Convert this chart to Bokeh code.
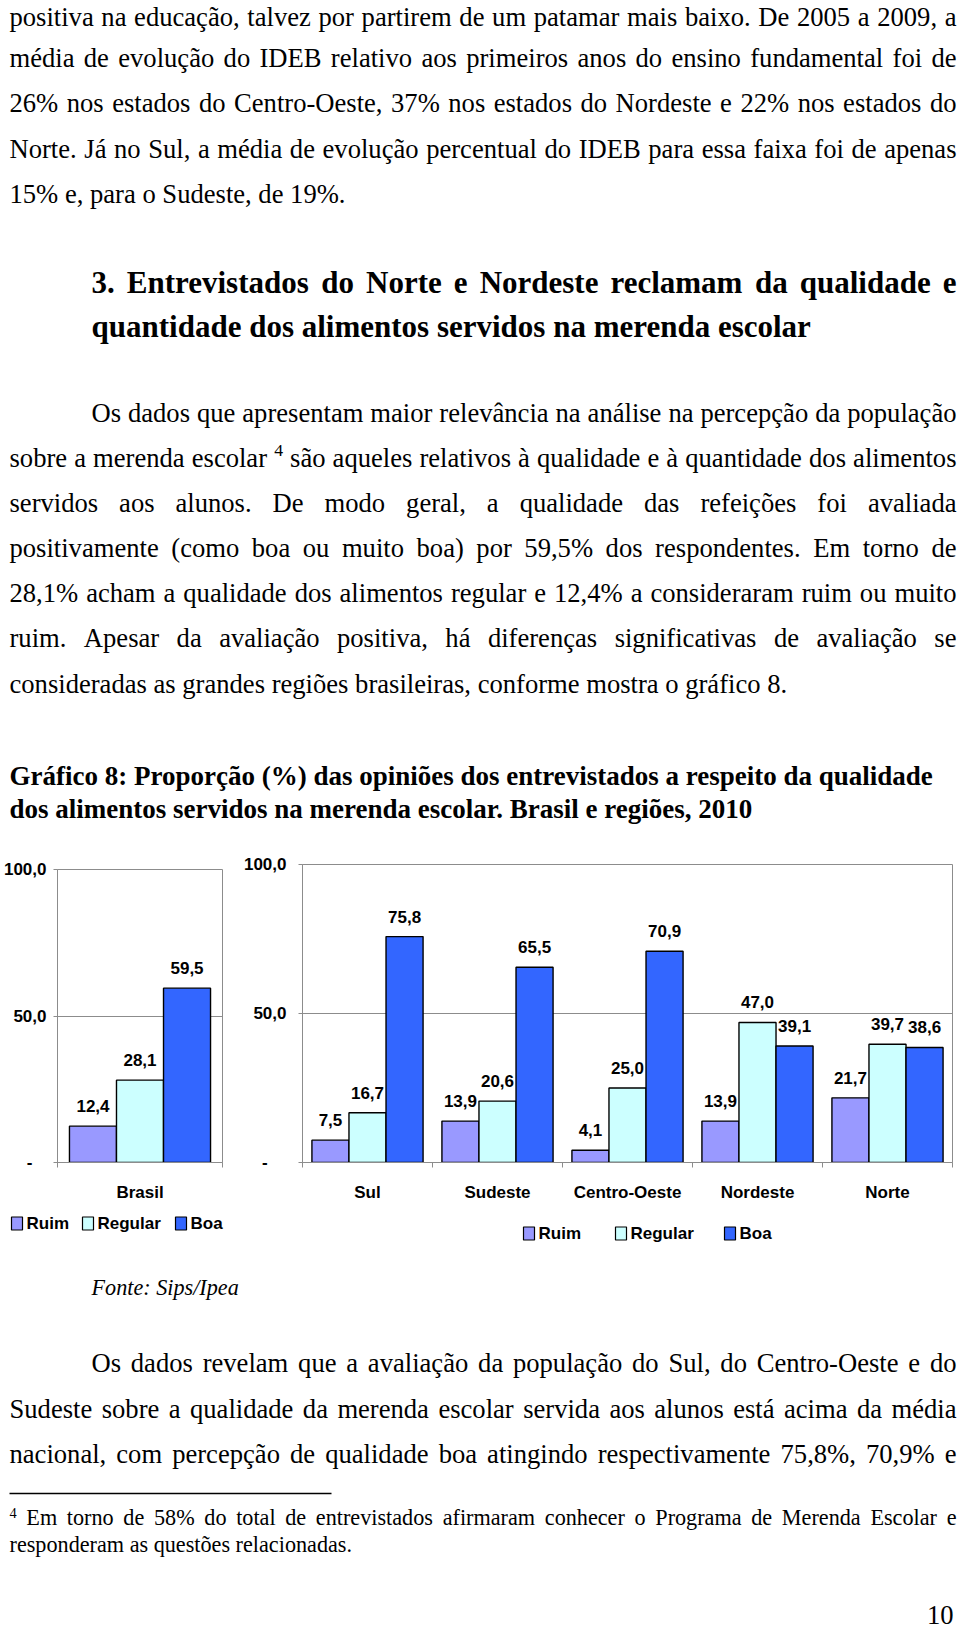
import unicodedata
from bokeh.plotting import figure
from bokeh.models import ColumnDataSource, Range1d, FixedTicker
from bokeh.layouts import column, row
from bokeh.core.properties import value
from bokeh.embed import file_html
from bokeh.resources import INLINE

# ---------------- chart data ----------------
series = ["Ruim", "Regular", "Boa"]
series_colors = ["#9999FF", "#CCFFFF", "#3366FF"]

brasil_cat = ["Brasil"]
brasil_ruim = [12.4]
brasil_regular = [28.1]
brasil_boa = [59.5]

regioes = ["Sul", "Sudeste", "Centro-Oeste", "Nordeste", "Norte"]
reg_ruim = [7.5, 13.9, 4.1, 13.9, 21.7]
reg_regular = [16.7, 20.6, 25.0, 47.0, 39.7]
reg_boa = [75.8, 65.5, 70.9, 39.1, 38.6]

y_ticks = [0, 50, 100]
y_tick_labels = ["-", "50,0", "100,0"]

# ---------------- page text ----------------
para1 = [
    "positiva na educação, talvez por partirem de um patamar mais baixo. De 2005 a 2009, a",
    "média de evolução do IDEB relativo aos primeiros anos do ensino fundamental foi de",
    "26% nos estados do Centro-Oeste, 37% nos estados do Nordeste e 22% nos estados do",
    "Norte. Já no Sul, a média de evolução percentual do IDEB para essa faixa foi de apenas",
    "15% e, para o Sudeste, de 19%.",
]
heading = [
    "3. Entrevistados do Norte e Nordeste reclamam da qualidade e",
    "quantidade dos alimentos servidos na merenda escolar",
]
para2 = [
    "Os dados que apresentam maior relevância na análise na percepção da população",
    "sobre a merenda escolar ⁴ são aqueles relativos à qualidade e à quantidade dos alimentos",
    "servidos aos alunos. De modo geral, a qualidade das refeições foi avaliada",
    "positivamente (como boa ou muito boa) por 59,5% dos respondentes. Em torno de",
    "28,1% acham a qualidade dos alimentos regular e 12,4% a consideraram ruim ou muito",
    "ruim. Apesar da avaliação positiva, há diferenças significativas de avaliação se",
    "consideradas as grandes regiões brasileiras, conforme mostra o gráfico 8.",
]
chart_title = [
    "Gráfico 8: Proporção (%) das opiniões dos entrevistados a respeito da qualidade",
    "dos alimentos servidos na merenda escolar. Brasil e regiões, 2010",
]
fonte = "Fonte: Sips/Ipea"
para3 = [
    "Os dados revelam que a avaliação da população do Sul, do Centro-Oeste e do",
    "Sudeste sobre a qualidade da merenda escolar servida aos alunos está acima da média",
    "nacional, com percepção de qualidade boa atingindo respectivamente 75,8%, 70,9% e",
]
footnote = [
    "⁴ Em torno de 58% do total de entrevistados afirmaram conhecer o Programa de Merenda Escolar e",
    "responderam as questões relacionadas.",
]
page_number = "10"

# ---------------- font metrics (Times) for justification ----------------
LOW = "abcdefghijklmnopqrstuvwxyz"
UP = "ABCDEFGHIJKLMNOPQRSTUVWXYZ"
REG = dict(zip(LOW, [444, 500, 444, 500, 444, 333, 500, 500, 278, 278, 500, 278, 778,
                     500, 500, 500, 500, 333, 389, 278, 500, 500, 722, 500, 500, 444]))
REG.update(zip(UP, [722, 667, 667, 722, 611, 556, 722, 722, 333, 389, 722, 611, 889,
                    722, 722, 556, 722, 667, 556, 611, 722, 722, 944, 722, 722, 611]))
REG.update({" ": 250, "%": 833, "(": 333, ")": 333, ",": 250, "-": 333, ".": 250,
            ":": 278, "/": 278})
BOLD = dict(zip(LOW, [500, 556, 444, 556, 444, 333, 500, 556, 278, 333, 556, 278, 833,
                      556, 500, 556, 556, 444, 389, 333, 556, 500, 722, 500, 500, 444]))
BOLD.update(zip(UP, [722, 667, 722, 722, 667, 611, 778, 778, 389, 500, 778, 667, 944,
                     722, 778, 611, 778, 722, 556, 667, 722, 722, 1000, 722, 722, 667]))
BOLD.update({" ": 250, "%": 1000, "(": 333, ")": 333, ",": 250, "-": 333, ".": 250,
             ":": 333, "/": 278})

# measured: the rendered baseline sits about a third of an em below the anchor
BASE_FIX = 0.34


def base_char(c):
    return unicodedata.normalize("NFD", c)[0]


def word_width(word, size, style):
    tbl = BOLD if style == "bold" else REG
    return sum(tbl.get(base_char(c), 500) for c in word) * size / 1000.0


class TextBuf:
    def __init__(self, top):
        self.top = top
        self.d = dict(x=[], y=[], text=[], size=[], style=[], align=[])

    def add(self, x, y, t, size, style, align):
        self.d["x"].append(x)
        self.d["y"].append(y - self.top - BASE_FIX * size)
        self.d["text"].append(t)
        self.d["size"].append("%.1fpx" % size)
        self.d["style"].append(style)
        self.d["align"].append(align)

    def line(self, txt, x0, x1, y, size, style="normal", justify=True,
             sup_size=None, sup_rise=0):
        if not justify:
            self.add(x0, y, txt, size, style, "left")
            return
        specs = []
        for w in txt.split(" "):
            if w == "⁴":
                specs.append(("4", sup_size, -sup_rise))
            else:
                specs.append((w, size, 0))
        widths = [word_width(t, s, style) for t, s, _ in specs]
        gap = (x1 - x0 - sum(widths)) / (len(specs) - 1)
        x = x0
        for i, ((t, s, dy), w) in enumerate(zip(specs, widths)):
            if i == len(specs) - 1:
                self.add(x1, y + dy, t, s, style, "right")
            else:
                self.add(x, y + dy, t, s, style, "left")
            x += w + gap


def blank_figure(width, height):
    p = figure(width=width, height=height, x_range=Range1d(0, width),
               y_range=Range1d(height, 0), output_backend="svg",
               toolbar_location=None, min_border=0,
               x_axis_location=None, y_axis_location=None)
    p.xgrid.visible = False
    p.ygrid.visible = False
    p.outline_line_color = None
    p.background_fill_color = "white"
    p.border_fill_color = "white"
    p.frame_align = False
    return p


def draw_text(p, buf):
    src = ColumnDataSource(buf.d)
    p.text(x="x", y="y", text="text", source=src, text_font=value("Liberation Serif"),
           text_font_size="size", text_font_style="style", text_align="align",
           text_baseline="alphabetic", text_color="black")


BODY = 26.6
HEAD = 31.0
TITLE = 27.0
SMALL = 22.2
PAGE_W = 960
L, R, IND = 9, 956, 91

# ---------------- top text block (page y 0 .. 832) ----------------
T1_TOP, T1_H = 0, 832
t1 = blank_figure(PAGE_W, T1_H)
b1 = TextBuf(T1_TOP)
p1_base = [26, 67, 112, 157.5, 203]
for i, (ln, yb) in enumerate(zip(para1, p1_base)):
    b1.line(ln, L, R, yb, BODY, justify=(i < len(para1) - 1))
h_base = [293, 337]
for i, (ln, yb) in enumerate(zip(heading, h_base)):
    b1.line(ln, IND, R, yb, HEAD, "bold", justify=(i == 0))
p2_base = [421.5, 466.5, 512, 557, 601.5, 647, 692.5]
for i, (ln, yb) in enumerate(zip(para2, p2_base)):
    b1.line(ln, IND if i == 0 else L, R, yb, BODY, justify=(i < len(para2) - 1),
            sup_size=17.7, sup_rise=10)
ct_base = [785, 818]
for ln, yb in zip(chart_title, ct_base):
    b1.line(ln, L, R, yb, TITLE, "bold", justify=False)
draw_text(t1, b1)

# ---------------- bottom text block (page y 1250 .. 1633) ----------------
T2_TOP, T2_H = 1250, 383
t2 = blank_figure(PAGE_W, T2_H)
b2 = TextBuf(T2_TOP)
b2.add(IND, 1295, fonte, SMALL, "italic", "left")
p3_base = [1372, 1418, 1462.5]
for i, (ln, yb) in enumerate(zip(para3, p3_base)):
    b2.line(ln, IND if i == 0 else L, R, yb, BODY, justify=True)
fn_base = [1525, 1552]
for i, (ln, yb) in enumerate(zip(footnote, fn_base)):
    b2.line(ln, L, R, yb, SMALL, justify=(i == 0), sup_size=14.4, sup_rise=8)
b2.add(953, 1624, page_number, BODY, "normal", "right")
draw_text(t2, b2)
t2.segment(x0=[L], y0=[1493 - T2_TOP], x1=[331], y1=[1493 - T2_TOP], line_color="black",
           line_width=1.3)

# ---------------- charts ----------------
CF = "Liberation Sans"
CFS = "17px"
GRAY = "#8c8c8c"


def fmt(v):
    return ("%.1f" % v).replace(".", ",")


def bar_chart(cats, vals, width, height, left, right, top, bottom, ystandoff, dash_pad):
    n = len(cats)
    p = figure(width=width, height=height, x_range=Range1d(0, n), y_range=Range1d(0, 100),
               output_backend="svg", toolbar_location=None,
               min_border_left=left, min_border_right=right,
               min_border_top=top, min_border_bottom=bottom)
    p.frame_align = False
    bw = 0.285
    for k, (col, vv) in enumerate(zip(series_colors, vals)):
        xs = [i + 0.5 + (k - 1) * bw for i in range(n)]
        src = ColumnDataSource(dict(x=xs, top=vv, lab=[fmt(v) for v in vv]))
        p.vbar(x="x", top="top", bottom=0, width=bw, source=src, fill_color=col,
               line_color="black", line_width=1.4)
        p.text(x="x", y="top", text="lab", source=src, text_align="center",
               text_baseline="alphabetic", y_offset=-20, text_font=value(CF),
               text_font_size=CFS, text_font_style="bold", text_color="black")

    yax = p.yaxis[0]
    yax.ticker = FixedTicker(ticks=y_ticks)
    labs = list(y_tick_labels)
    labs[0] = labs[0] + "\u00a0" * dash_pad
    yax.major_label_overrides = {t: l for t, l in zip(y_ticks, labs)}
    yax.major_label_text_font = CF
    yax.major_label_text_font_size = CFS
    yax.major_label_text_font_style = "bold"
    yax.major_label_text_color = "black"
    yax.major_label_standoff = ystandoff
    yax.major_tick_out = 4
    yax.major_tick_in = 0
    yax.minor_tick_out = 0
    yax.minor_tick_in = 0
    yax.axis_line_color = GRAY
    yax.major_tick_line_color = GRAY

    xax = p.xaxis[0]
    xax.ticker = FixedTicker(ticks=[i + 0.5 for i in range(n)],
                             minor_ticks=list(range(n + 1)))
    xax.major_label_overrides = {i + 0.5: c for i, c in enumerate(cats)}
    xax.major_label_text_font = CF
    xax.major_label_text_font_size = CFS
    xax.major_label_text_font_style = "bold"
    xax.major_label_text_color = "black"
    xax.major_label_standoff = 15
    xax.major_tick_out = 0
    xax.major_tick_in = 0
    xax.minor_tick_out = 5
    xax.minor_tick_in = 0
    xax.minor_tick_line_color = GRAY
    xax.axis_line_color = GRAY

    p.xgrid.visible = False
    p.ygrid.ticker = FixedTicker(ticks=[50])
    p.ygrid.grid_line_color = GRAY
    p.ygrid.grid_line_width = 1
    p.outline_line_color = GRAY
    p.outline_line_width = 1
    p.background_fill_color = "white"
    p.border_fill_color = "white"
    return p


def legend_strip(width, height, item_x, yc):
    p = blank_figure(width, height)
    src = ColumnDataSource(dict(x=[x + 5.5 for x in item_x], tx=[x + 15 for x in item_x],
                                y=[yc] * len(series), c=series_colors, t=series))
    p.rect(x="x", y="y", width=11, height=13, source=src, fill_color="c",
           line_color="black", line_width=1.2)
    p.text(x="tx", y="y", text="t", source=src, text_font=value(CF), text_font_size=CFS,
           text_font_style="bold", text_baseline="middle", text_color="black")
    return p


CH_H, LEG_H = 375, 43
c1 = bar_chart(brasil_cat, [brasil_ruim, brasil_regular, brasil_boa],
               width=240, height=CH_H, left=54, right=18, top=37, bottom=45,
               ystandoff=7, dash_pad=3)
l1 = legend_strip(240, LEG_H, [11, 82, 175], 16)
c2 = bar_chart(regioes, [reg_ruim, reg_regular, reg_boa],
               width=720, height=CH_H, left=62, right=8, top=32, bottom=45,
               ystandoff=12, dash_pad=4)
l2 = legend_strip(720, LEG_H, [523 - 240, 615 - 240, 724 - 240], 26)

layout = column(t1, row(column(c1, l1), column(c2, l2)), t2)
open("out.html", "w").write(file_html(layout, INLINE))
